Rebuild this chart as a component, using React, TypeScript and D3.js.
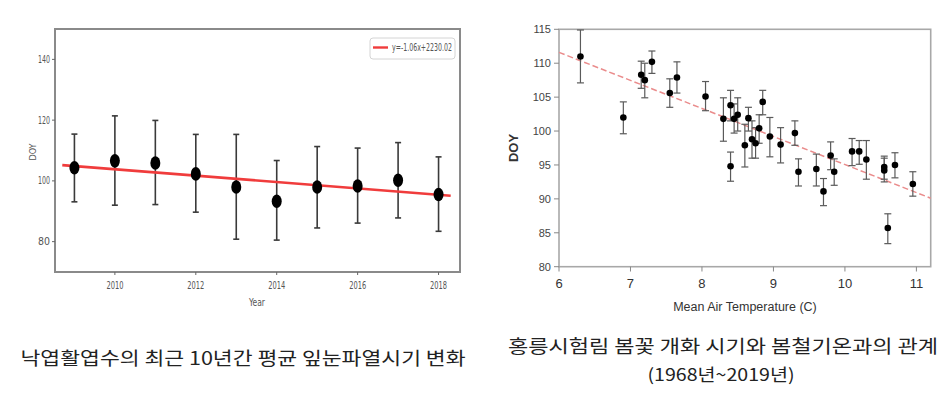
import * as d3 from 'd3';
import React from 'react';

// left chart: mean bud-burst DOY per year (last 10 years)
const years = [2009, 2010, 2011, 2012, 2013, 2014, 2015, 2016, 2017, 2018];
const leftMeans = [104.3, 106.6, 105.9, 102.3, 98.0, 93.3, 98.0, 98.3, 100.2, 95.5];
const leftUpper = [115.4, 121.4, 119.9, 115.3, 115.3, 106.7, 111.3, 110.8, 112.6, 107.9];
const leftLower = [93.1, 92.0, 92.2, 89.7, 80.8, 80.5, 84.5, 86.1, 87.8, 83.4];
const leftTrendX = [2008.7, 2018.3];
const leftTrendY = [105.2, 95.1];
const leftYTicks = [80, 100, 120, 140];
const leftXTicks = [2010, 2012, 2014, 2016, 2018];
const legendLabel = 'y=-1.06x+2230.02';

// right chart: flowering DOY vs spring air temperature (1968~2019)
const temps = [6.3, 6.9, 7.15, 7.2, 7.3, 7.55, 7.65, 8.05, 8.3, 8.4, 8.4, 8.45, 8.5, 8.6, 8.65, 8.7, 8.75, 8.8, 8.85, 8.95, 9.1, 9.3, 9.35, 9.6, 9.7, 9.8, 9.85, 10.1, 10.2, 10.3, 10.55, 10.55, 10.6, 10.7, 10.95];
const doys = [111.0, 102.0, 108.3, 107.5, 110.2, 105.6, 107.9, 105.1, 101.8, 103.8, 94.8, 101.8, 102.4, 97.9, 101.9, 98.8, 98.2, 100.4, 104.3, 99.2, 98.0, 99.7, 94.0, 94.4, 91.1, 96.4, 94.0, 97.0, 97.0, 95.8, 94.7, 94.2, 85.7, 95.0, 92.2];
const errHigh = [114.9, 104.3, 110.3, 110.0, 111.8, 107.7, 110.2, 107.3, 104.9, 106.0, 96.9, 104.0, 104.9, 101.0, 103.5, 101.5, 100.5, 102.4, 106.0, 102.0, 100.5, 101.5, 95.9, 96.6, 93.0, 98.4, 95.9, 98.9, 98.6, 98.6, 96.3, 96.0, 87.8, 96.8, 94.0];
const errLow = [107.1, 99.6, 106.3, 104.9, 108.5, 103.5, 105.6, 103.0, 98.5, 101.5, 92.6, 99.7, 100.0, 94.7, 100.0, 96.0, 96.0, 98.2, 102.4, 96.2, 95.3, 97.9, 91.9, 91.9, 89.0, 94.3, 92.0, 94.9, 95.1, 92.9, 92.9, 92.5, 83.4, 93.1, 90.4];
const rightTrendX = [6, 11.2];
const rightTrendY = [111.6, 90.1];
const rightYTicks = [80, 85, 90, 95, 100, 105, 110, 115];
const rightXTicks = [6, 7, 8, 9, 10, 11];

const leftCaption = '낙엽활엽수의 최근 10년간 평균 잎눈파열시기 변화';
const rightCaption1 = '홍릉시험림 봄꽃 개화 시기와 봄철기온과의 관계';
const rightCaption2 = '(1968년~2019년)';

const NARROW = '"Liberation Sans Narrow", "Arial Narrow", "DejaVu Sans Condensed", sans-serif';
const SANS = '"Liberation Sans", Arial, sans-serif';
const KR = '"Noto Sans CJK KR", sans-serif';

function LeftChart() {
  const x = d3.scaleLinear().domain([2008.52, 2018.53]).range([55, 460]);
  const y = d3.scaleLinear().domain([70, 150]).range([272, 29]);
  const trend = d3.line<number>().x((d, i) => x(leftTrendX[i])).y(d => y(d));

  return (
    <g>
      <rect x={55} y={29} width={405} height={243} fill="white" stroke="#8a8a8a" strokeWidth={2} />
      {leftYTicks.map(t => (
        <g key={t}>
          <line x1={52} x2={55} y1={y(t)} y2={y(t)} stroke="#666" />
          <text x={50} y={y(t)} dy="0.35em" textAnchor="end" fontSize={10} fontFamily={NARROW} fill="#555" textLength={12} lengthAdjust="spacingAndGlyphs">{t}</text>
        </g>
      ))}
      {leftXTicks.map(t => (
        <g key={t}>
          <line x1={x(t)} x2={x(t)} y1={272} y2={275} stroke="#666" />
          <text x={x(t)} y={289} textAnchor="middle" fontSize={10} fontFamily={NARROW} fill="#555" textLength={17} lengthAdjust="spacingAndGlyphs">{t}</text>
        </g>
      ))}
      <text x={257} y={306} textAnchor="middle" fontSize={10} fontFamily={NARROW} fill="#555" textLength={16} lengthAdjust="spacingAndGlyphs">Year</text>
      <text transform={`translate(36,${152}) rotate(-90)`} textAnchor="middle" fontSize={9} fontFamily={NARROW} fill="#555">DOY</text>

      {years.map((yr, i) => (
        <g key={yr} stroke="#3a3a3a" strokeWidth={1.6}>
          <line x1={x(yr)} x2={x(yr)} y1={y(leftUpper[i])} y2={y(leftLower[i])} />
          <line x1={x(yr) - 3} x2={x(yr) + 3} y1={y(leftUpper[i])} y2={y(leftUpper[i])} />
          <line x1={x(yr) - 3} x2={x(yr) + 3} y1={y(leftLower[i])} y2={y(leftLower[i])} />
        </g>
      ))}
      <path d={trend(leftTrendY) || ''} stroke="#f03c3c" strokeWidth={2.6} fill="none" />
      {years.map((yr, i) => (
        <ellipse key={yr} cx={x(yr)} cy={y(leftMeans[i])} rx={5} ry={6.8} fill="black" />
      ))}

      <rect x={370} y={38} width={85} height={21} rx={3} fill="white" stroke="#d4d4d4" />
      <line x1={373} x2={388} y1={47.5} y2={47.5} stroke="#f03c3c" strokeWidth={2.4} />
      <text x={392} y={51} fontSize={10} fontFamily={NARROW} fill="#555" textLength={60} lengthAdjust="spacingAndGlyphs">{legendLabel}</text>
    </g>
  );
}

function RightChart() {
  const x = d3.scaleLinear().domain([6, 11.2]).range([559, 930.7]);
  const y = d3.scaleLinear().domain([80, 115]).range([266.7, 29.3]);
  const trend = d3.line<number>().x((d, i) => x(rightTrendX[i])).y(d => y(d));

  return (
    <g>
      <rect x={559} y={29.3} width={371.7} height={237.4} fill="white" stroke="#a8a8a8" strokeWidth={1.6} />
      {rightYTicks.map(t => (
        <g key={t}>
          <line x1={554} x2={559} y1={y(t)} y2={y(t)} stroke="#888" />
          <text x={551} y={y(t)} dy="0.35em" textAnchor="end" fontSize={11} fontFamily={SANS} fill="#444">{t}</text>
        </g>
      ))}
      {rightXTicks.map(t => (
        <g key={t}>
          <line x1={x(t)} x2={x(t)} y1={266.7} y2={271.5} stroke="#888" />
          <text x={x(t)} y={288} textAnchor="middle" fontSize={13} fontFamily={SANS} fill="#333">{t}</text>
        </g>
      ))}
      <text x={745} y={311} textAnchor="middle" fontSize={12.5} fontFamily={SANS} fill="#333">Mean Air Temperature (C)</text>
      <text transform={`translate(518,${148}) rotate(-90)`} textAnchor="middle" fontSize={13} fontWeight="bold" fontFamily={SANS} fill="#333">DOY</text>

      <path d={trend(rightTrendY) || ''} stroke="#ea8c8c" strokeWidth={1.5} strokeDasharray="6,3" fill="none" />
      {temps.map((t, i) => (
        <g key={i} stroke="#5a5a5a" strokeWidth={1.2}>
          <line x1={x(t)} x2={x(t)} y1={y(errHigh[i])} y2={y(errLow[i])} />
          <line x1={x(t) - 3.5} x2={x(t) + 3.5} y1={y(errHigh[i])} y2={y(errHigh[i])} />
          <line x1={x(t) - 3.5} x2={x(t) + 3.5} y1={y(errLow[i])} y2={y(errLow[i])} />
        </g>
      ))}
      {temps.map((t, i) => (
        <circle key={i} cx={x(t)} cy={y(doys[i])} r={3.3} fill="black" />
      ))}
    </g>
  );
}

export default function App() {
  return (
    <svg width={952} height={398} style={{ position: 'absolute', left: 0, top: 0, background: 'white' }}>
      <rect width={952} height={398} fill="white" />
      <LeftChart />
      <RightChart />
      <text x={243} y={365} textAnchor="middle" fontSize={18} fontFamily={KR} fill="#222" textLength={445} lengthAdjust="spacingAndGlyphs">{leftCaption}</text>
      <text x={723} y={353} textAnchor="middle" fontSize={18} fontFamily={KR} fill="#222" textLength={430} lengthAdjust="spacingAndGlyphs">{rightCaption1}</text>
      <text x={721} y={381} textAnchor="middle" fontSize={17} fontFamily={KR} fill="#222" textLength={147} lengthAdjust="spacingAndGlyphs">{rightCaption2}</text>
    </svg>
  );
}
